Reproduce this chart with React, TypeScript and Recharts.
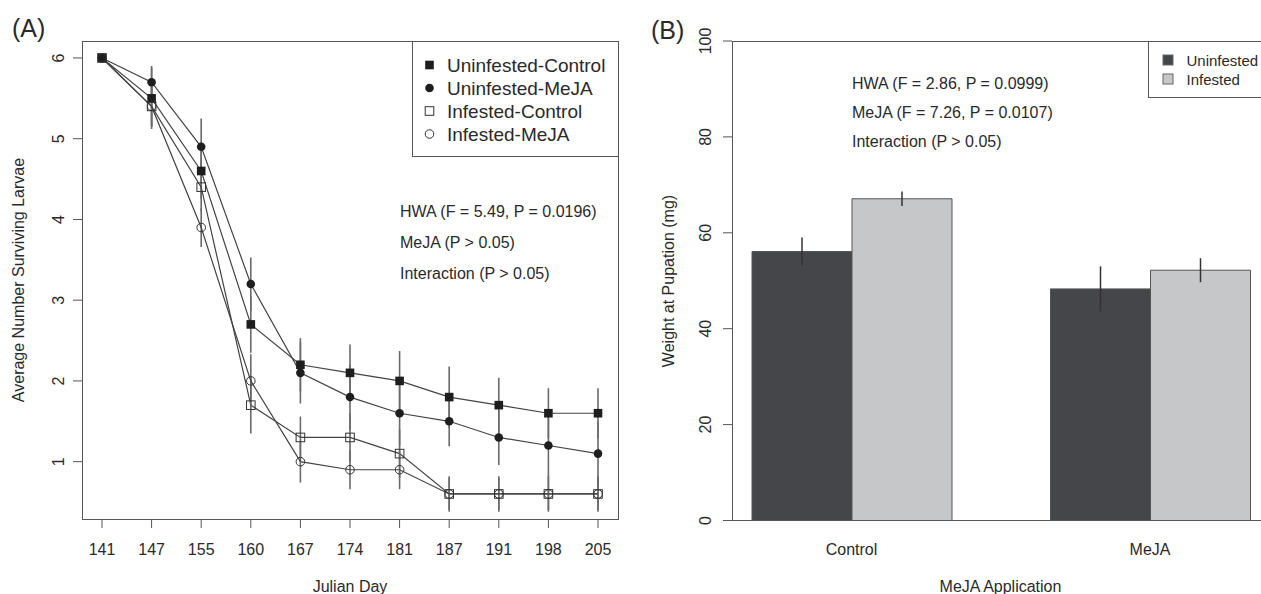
import React from 'react'
import { LineChart, Line, BarChart, Bar, XAxis, YAxis, ErrorBar, Legend } from 'recharts'

// Panel A: larval survival by Julian day
const days = ['141', '147', '155', '160', '167', '174', '181', '187', '191', '198', '205']
const ucMean = [6, 5.5, 4.6, 2.7, 2.2, 2.1, 2.0, 1.8, 1.7, 1.6, 1.6]
const ucErr = [0, 0.38, 0.35, 0.35, 0.33, 0.35, 0.37, 0.38, 0.34, 0.31, 0.31]
const umMean = [6, 5.7, 4.9, 3.2, 2.1, 1.8, 1.6, 1.5, 1.3, 1.2, 1.1]
const umErr = [0, 0.2, 0.35, 0.33, 0.38, 0.4, 0.4, 0.31, 0.34, 0.4, 0.4]
const icMean = [6, 5.4, 4.4, 1.7, 1.3, 1.3, 1.1, 0.6, 0.6, 0.6, 0.6]
const icErr = [0, 0.25, 0.3, 0.35, 0.26, 0.3, 0.3, 0.22, 0.22, 0.22, 0.22]
const imMean = [6, 5.4, 3.9, 2.0, 1.0, 0.9, 0.9, 0.6, 0.6, 0.6, 0.6]
const imErr = [0, 0.25, 0.24, 0.33, 0.26, 0.24, 0.24, 0.2, 0.2, 0.2, 0.2]
const yTicksA = [1, 2, 3, 4, 5, 6]

// Panel B: weight at pupation
const groups = ['Control', 'MeJA']
const uninfMean = [56.1, 48.3]
const uninfErr = [2.9, 4.7]
const infMean = [67.1, 52.2]
const infErr = [1.5, 2.5]
const yTicksB = [0, 20, 40, 60, 80, 100]

const FONT = '"Liberation Sans", Arial, Helvetica, sans-serif'
const INK = '#2a2a2a'
const FRAME = '#555'
const FS = 16

const dataA = days.map((d, i) => ({
  day: d,
  uc: ucMean[i], ucErr: ucErr[i],
  um: umMean[i], umErr: umErr[i],
  ic: icMean[i], icErr: icErr[i],
  im: imMean[i], imErr: imErr[i],
}))

const dataB = groups.map((g, i) => ({
  group: g,
  uninf: uninfMean[i], uninfErr: uninfErr[i],
  inf: infMean[i], infErr: infErr[i],
}))

const seriesA = [
  { key: 'uc', name: 'Uninfested-Control', shape: 'square' },
  { key: 'um', name: 'Uninfested-MeJA', shape: 'circle' },
  { key: 'ic', name: 'Infested-Control', shape: 'osquare' },
  { key: 'im', name: 'Infested-MeJA', shape: 'ocircle' },
]

const Marker = ({ cx, cy, shape }: any) => {
  if (cx == null || cy == null) return null
  const s = 4.3
  if (shape === 'square') return <rect x={cx - s} y={cy - s} width={2 * s} height={2 * s} fill="#1e1e1e" />
  if (shape === 'circle') return <circle cx={cx} cy={cy} r={s} fill="#1e1e1e" />
  if (shape === 'osquare')
    return <rect x={cx - s} y={cy - s} width={2 * s} height={2 * s} fill="none" stroke="#333" strokeWidth={1} />
  return <circle cx={cx} cy={cy} r={s} fill="none" stroke="#333" strokeWidth={1} />
}

// y tick labels run parallel to the axis, like R's default
const RotTick = ({ x, y, payload }: any) => (
  <text x={x} y={y} transform={`rotate(-90 ${x} ${y})`} textAnchor="middle" fontSize={FS} fill={INK}>
    {payload.value}
  </text>
)

const legendA = () => (
  <svg width={207} height={116} style={{ display: 'block' }}>
    <rect x={0.5} y={0.5} width={206} height={115} fill="#fff" stroke={FRAME} />
    {seriesA.map((s, i) => (
      <g key={s.key}>
        <Marker cx={17.5} cy={24 + i * 23} shape={s.shape} />
        <text x={35} y={24 + i * 23} dominantBaseline="central" fontSize={19} fill={INK}>
          {s.name}
        </text>
      </g>
    ))}
  </svg>
)

const legendB = () => (
  <svg width={140} height={57} style={{ display: 'block' }}>
    <rect x={0.5} y={0.5} width={160} height={56} fill="#fff" stroke={FRAME} />
    <rect x={15} y={14} width={10} height={10} fill="#454649" stroke="#666" />
    <text x={38.5} y={19} dominantBaseline="central" fontSize={15} fill={INK}>Uninfested</text>
    <rect x={15} y={33} width={10} height={10} fill="#c6c7c9" stroke="#666" />
    <text x={38.5} y={38} dominantBaseline="central" fontSize={15} fill={INK}>Infested</text>
  </svg>
)

const Frame = ({ left, top, width, height }: any) => (
  <div
    style={{
      position: 'absolute', left, top, width, height,
      border: `1px solid ${FRAME}`, boxSizing: 'border-box', pointerEvents: 'none',
    }}
  />
)

export default function App() {
  return (
    <div
      style={{
        position: 'absolute', left: 0, top: 0, width: 1261, height: 594,
        overflow: 'hidden', background: '#fff', fontFamily: FONT, color: INK,
      }}
    >
      {/* Panel A */}
      <div style={{ position: 'absolute', left: 0, top: 0 }}>
        <LineChart width={640} height={594} data={dataA} margin={{ top: 41, right: 22, left: 42, bottom: 45 }}>
          <XAxis
            dataKey="day"
            height={30}
            padding={{ left: 20, right: 20 }}
            axisLine={false}
            tickSize={9}
            tickMargin={15.3}
            tickLine={{ stroke: FRAME }}
            tick={{ fontSize: FS, fill: INK }}
            interval={0}
          />
          <YAxis
            type="number"
            width={40}
            domain={[0.29, 6.21]}
            ticks={yTicksA}
            allowDataOverflow
            axisLine={false}
            tickSize={9}
            tickMargin={9.3}
            tickLine={{ stroke: FRAME }}
            tick={<RotTick />}
          />
          {seriesA.map((s) => (
            <Line
              key={s.key}
              dataKey={s.key}
              name={s.name}
              stroke="#444"
              strokeWidth={1.2}
              isAnimationActive={false}
              dot={(p: any) => <Marker key={`${s.key}-${p.index}`} cx={p.cx} cy={p.cy} shape={s.shape} />}
              activeDot={false}
            >
              <ErrorBar dataKey={`${s.key}Err`} width={0} stroke="#6a6a6a" strokeWidth={1.6} direction="y" />
            </Line>
          ))}
          <Legend
            layout="vertical"
            align="center"
            verticalAlign="middle"
            wrapperStyle={{ left: 411.5, top: 41, width: 207, height: 116 }}
            content={legendA}
          />
        </LineChart>
        <Frame left={82} top={41} width={537} height={479} />
      </div>

      {/* Panel B */}
      <div style={{ position: 'absolute', left: 620, top: 0 }}>
        <BarChart
          width={660}
          height={594}
          data={dataB}
          margin={{ top: 41, right: 11, left: 72, bottom: 43.5 }}
          barCategoryGap={49.75}
          barGap={0}
        >
          <XAxis
            dataKey="group"
            height={30}
            padding={{ left: -29.75, right: -30.25 }}
            axisLine={false}
            tickLine={false}
            tickSize={0}
            tickMargin={22.8}
            tick={{ fontSize: FS, fill: INK }}
          />
          <YAxis
            type="number"
            width={40}
            domain={[0, 100]}
            ticks={yTicksB}
            allowDataOverflow
            axisLine={false}
            tickSize={9}
            tickMargin={12.3}
            tickLine={{ stroke: FRAME }}
            tick={<RotTick />}
          />
          <Bar dataKey="uninf" name="Uninfested" fill="#454649" stroke="#555" strokeWidth={1} isAnimationActive={false}>
            <ErrorBar dataKey="uninfErr" width={0} stroke="#333" strokeWidth={1.5} direction="y" />
          </Bar>
          <Bar dataKey="inf" name="Infested" fill="#c6c7c9" stroke="#555" strokeWidth={1} isAnimationActive={false}>
            <ErrorBar dataKey="infErr" width={0} stroke="#333" strokeWidth={1.5} direction="y" />
          </Bar>
          <Legend
            layout="vertical"
            align="center"
            verticalAlign="middle"
            wrapperStyle={{ left: 528, top: 41, width: 140, height: 57 }}
            content={legendB}
          />
        </BarChart>
        <Frame left={112} top={41} width={560} height={480} />
      </div>

      {/* titles and statistics */}
      <svg width={1261} height={594} style={{ position: 'absolute', left: 0, top: 0, pointerEvents: 'none' }}>
        <g fill={INK} fontFamily={FONT}>
          <text x={12} y={28} fontSize={25} dominantBaseline="central">(A)</text>
          <text x={651} y={30} fontSize={25} dominantBaseline="central">(B)</text>

          <text x={400} y={211} fontSize={FS} dominantBaseline="central">HWA (F = 5.49, P = 0.0196)</text>
          <text x={400} y={242} fontSize={FS} dominantBaseline="central">MeJA (P &gt; 0.05)</text>
          <text x={400} y={273} fontSize={FS} dominantBaseline="central">Interaction (P &gt; 0.05)</text>

          <text x={852} y={83} fontSize={FS} dominantBaseline="central">HWA (F = 2.86, P = 0.0999)</text>
          <text x={852} y={112} fontSize={FS} dominantBaseline="central">MeJA (F = 7.26, P = 0.0107)</text>
          <text x={852} y={141} fontSize={FS} dominantBaseline="central">Interaction (P &gt; 0.05)</text>

          <text x={350} y={586} fontSize={FS} textAnchor="middle" dominantBaseline="central">Julian Day</text>
          <text x={1000.5} y={586} fontSize={FS} textAnchor="middle" dominantBaseline="central">MeJA Application</text>
          <text x={18} y={280} fontSize={FS} textAnchor="middle" dominantBaseline="central" transform="rotate(-90 18 280)">
            Average Number Surviving Larvae
          </text>
          <text x={668} y={281} fontSize={FS} textAnchor="middle" dominantBaseline="central" transform="rotate(-90 668 281)">
            Weight at Pupation (mg)
          </text>
        </g>
      </svg>
    </div>
  )
}
